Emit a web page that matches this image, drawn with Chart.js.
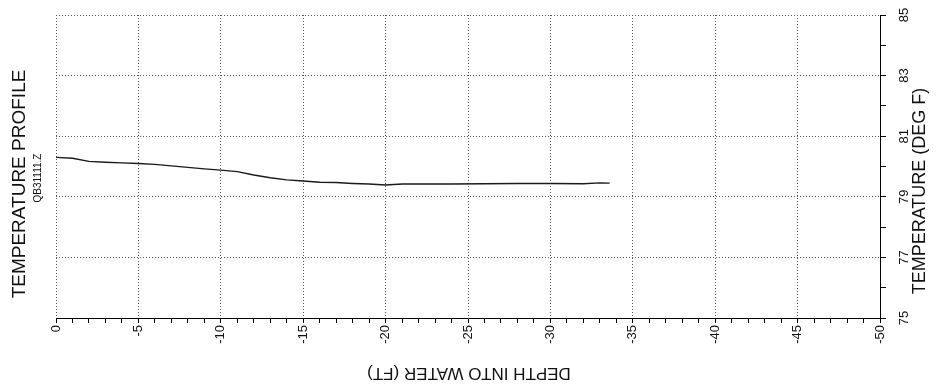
<!DOCTYPE html>
<html>
<head>
<meta charset="utf-8">
<script src="https://cdn.jsdelivr.net/npm/chart.js@4/dist/chart.umd.min.js"></script>
<style>
  html, body { margin: 0; padding: 0; background: #fff; }
  #wrap { width: 937px; height: 389px; }
</style>
</head>
<body>
<div id="wrap"><canvas id="tempChart" width="937" height="389"></canvas></div>
<script>
// depth into water (ft) and temperature (deg F)
const depthFt = [0, -1, -2, -3, -4, -5, -6, -7, -8, -9, -10, -11, -12, -13, -14, -15, -16, -17, -18, -19, -20, -21, -22, -24, -26, -28, -30, -32, -33, -33.6];
const tempF = [80.30, 80.27, 80.17, 80.14, 80.12, 80.10, 80.07, 80.02, 79.97, 79.92, 79.88, 79.83, 79.72, 79.63, 79.56, 79.52, 79.48, 79.47, 79.44, 79.42, 79.39, 79.42, 79.42, 79.42, 79.43, 79.44, 79.44, 79.43, 79.46, 79.45];

const depthLabelStep = 5;
const tempLabels = [75, 77, 79, 81, 83, 85];

const titleText = 'TEMPERATURE PROFILE';
const subTitleText = 'QB31111.Z';
const xTitleText = 'DEPTH INTO WATER (FT)';
const yTitleText = 'TEMPERATURE (DEG F)';

const FONT = '"Liberation Sans", Arial, sans-serif';

const decorPlugin = {
    id: 'decor',
    afterDraw(chart) {
        const ctx = chart.ctx;
        const area = chart.chartArea;
        const yScale = chart.scales.y;

        ctx.save();
        ctx.fillStyle = '#111';
        ctx.textAlign = 'center';
        ctx.textBaseline = 'middle';

        // left titles, reading bottom to top
        ctx.save();
        ctx.translate(20, 184);
        ctx.rotate(-Math.PI / 2);
        ctx.font = '19px ' + FONT;
        ctx.fillText(titleText, 0, 0);
        ctx.restore();

        ctx.save();
        ctx.translate(38, 178);
        ctx.rotate(-Math.PI / 2);
        ctx.font = '10px ' + FONT;
        ctx.fillText(subTitleText, 0, 0);
        ctx.restore();

        // right tick labels, rotated like the scan
        ctx.font = '13px ' + FONT;
        tempLabels.forEach(v => {
            const py = yScale.getPixelForValue(v);
            ctx.save();
            ctx.translate(area.right + 24, py);
            ctx.rotate(-Math.PI / 2);
            ctx.fillText(String(v), 0, 0);
            ctx.restore();
        });

        // right axis title
        ctx.save();
        ctx.translate(920, 191);
        ctx.rotate(-Math.PI / 2);
        ctx.font = '18px ' + FONT;
        ctx.fillText(yTitleText, 0, 0);
        ctx.restore();

        // bottom title, upside down
        ctx.save();
        ctx.translate(469, 373);
        ctx.rotate(Math.PI);
        ctx.font = '17px ' + FONT;
        ctx.fillText(xTitleText, 0, 0);
        ctx.restore();

        ctx.restore();
    }
};

new Chart(document.getElementById('tempChart').getContext('2d'), {
    type: 'line',
    data: {
        datasets: [{
            label: 'Temperature',
            data: depthFt.map((d, i) => ({ x: d, y: tempF[i] })),
            borderColor: '#1a1a1a',
            borderWidth: 1.4,
            pointRadius: 0,
            tension: 0,
            fill: false
        }]
    },
    options: {
        responsive: false,
        animation: false,
        layout: { padding: { left: 56, top: 15, right: 0, bottom: 0 } },
        plugins: {
            legend: { display: false },
            tooltip: { enabled: false }
        },
        scales: {
            x: {
                type: 'linear',
                position: 'bottom',
                min: -50,
                max: 0,
                reverse: true,
                afterFit: s => { s.height = 71; },
                border: { display: true, color: '#000', width: 1, dash: [1, 2] },
                grid: {
                    color: c => (c.tick && c.tick.value % depthLabelStep === 0) ? '#555' : 'rgba(0,0,0,0)',
                    tickColor: '#000',
                    tickLength: 5,
                    lineWidth: 1
                },
                ticks: {
                    stepSize: 1,
                    autoSkip: false,
                    minRotation: 90,
                    maxRotation: 90,
                    padding: 2,
                    color: '#111',
                    font: { family: FONT, size: 13 },
                    callback: v => (v % depthLabelStep === 0) ? String(v) : ''
                }
            },
            y: {
                type: 'linear',
                position: 'right',
                min: 75,
                max: 85,
                afterFit: s => { s.width = 57; },
                border: { display: true, color: '#000', width: 1, dash: [1, 2] },
                grid: {
                    color: c => (c.tick && c.tick.value % 2 === 1) ? '#555' : 'rgba(0,0,0,0)',
                    tickColor: '#000',
                    tickLength: 6,
                    lineWidth: 1
                },
                ticks: {
                    stepSize: 1,
                    display: false
                }
            }
        }
    },
    plugins: [decorPlugin]
});
</script>
</body>
</html>
